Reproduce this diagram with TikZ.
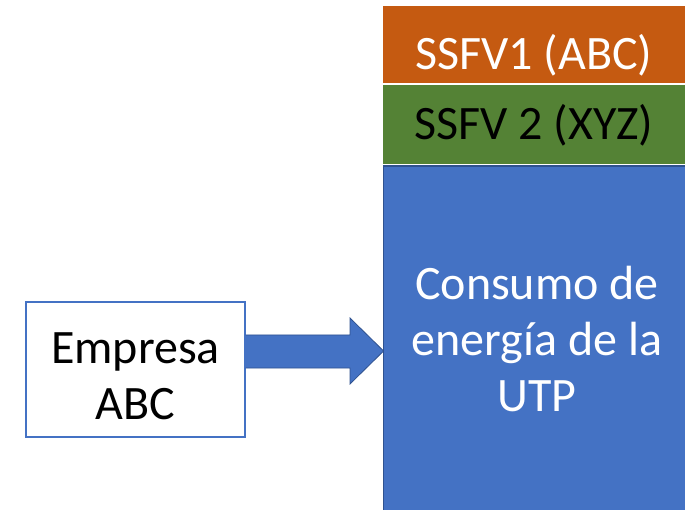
\documentclass[tikz,border=0pt]{standalone}
\usepackage{fontspec}
\setmainfont{Carlito}
\usetikzlibrary{calc}
\definecolor{orangebox}{HTML}{C55A11}
\definecolor{greenbox}{HTML}{548235}
\definecolor{bluebox}{HTML}{4472C4}
\definecolor{blueedge}{HTML}{2F528F}
\tikzset{
  bigtext/.style={font=\fontsize{48}{56}\selectfont, align=center},
  bar/.style={rectangle, inner sep=0pt, outer sep=0pt, anchor=north west},
}
\begin{document}
\begin{tikzpicture}[x=1pt,y=-1pt]
\useasboundingbox (0,0) rectangle (685,510);
% stacked bars on the right
\node[bar, fill=orangebox, minimum width=310pt, minimum height=77pt] (ssfv1) at (383,6) {};
\node[text=white, bigtext] (ssfv1txt) at ($(ssfv1.west)+(151,11)$) {SSFV1 (ABC)};
\node[bar, fill=greenbox, minimum width=310pt, minimum height=79pt] (ssfv2) at (383,85) {};
\node[text=black, bigtext] (ssfv2txt) at ($(ssfv2.west)+(151,0.5)$) {SSFV 2 (XYZ)};
\node[bar, fill=bluebox, draw=blueedge, line width=1.2pt, minimum width=320pt, minimum height=352pt] (cons) at (383.6,166) {};
\node[text=white, bigtext] (constxt) at (537,339) {Consumo de\\energía de la\\UTP};
% company box
\node[rectangle, draw=bluebox, line width=1.3pt, fill=white, minimum width=219pt, minimum height=135pt, inner sep=0pt] (emp) at (135.5,369.5) {};
\node[text=black, bigtext] (emptxt) at ($(emp.center)+(0,7)$) {Empresa\\ABC};
% block arrow from the company to the consumption bar
\coordinate (a0) at (emp.east |- 0,335);
\coordinate (tip) at (cons.west |- 0,351);
\draw[fill=bluebox, draw=blueedge, line width=0.8pt]
  (a0) -- (350,335) -- (350,318) -- (tip) -- (350,384) -- (350,368) -- (emp.east |- 0,368);
\end{tikzpicture}
\end{document}
